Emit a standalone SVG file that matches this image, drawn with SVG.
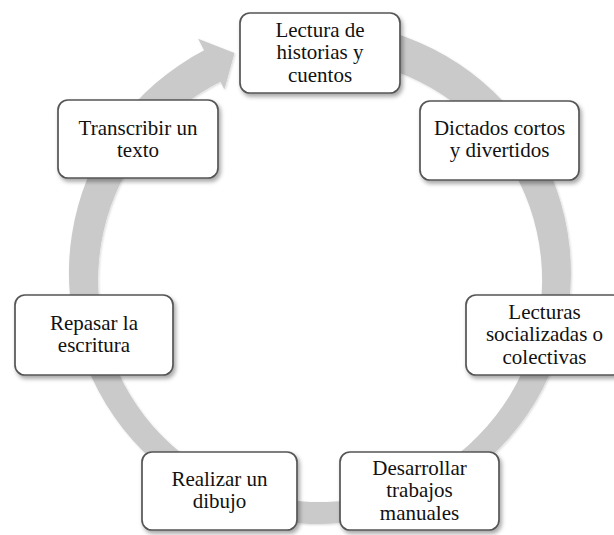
<svg xmlns="http://www.w3.org/2000/svg" width="614" height="535" viewBox="0 0 614 535">
  <defs>
    <filter id="shadow" x="-10%" y="-10%" width="130%" height="140%">
      <feDropShadow dx="2" dy="3" stdDeviation="2" flood-color="#000" flood-opacity="0.35"/>
    </filter>
    <filter id="ringShadow" x="-5%" y="-5%" width="110%" height="110%">
      <feDropShadow dx="1" dy="1" stdDeviation="1" flood-color="#000" flood-opacity="0.15"/>
    </filter>
  </defs>
  <style>
    .box { fill: #ffffff; stroke: #555555; stroke-width: 1.7; filter: url(#shadow); }
    .lbl { font-family: "Liberation Serif", "Times New Roman", serif; font-size: 21px; fill: #111; text-anchor: middle; }
    .ring { fill: #cacaca; stroke: none; filter: url(#ringShadow); }
  </style>
  <rect width="614" height="535" fill="#ffffff"/>
  <g id="connectors">
    <path class="ring" d="M 363.6 25.8 A 251 251 0 1 1 204.1 50.3 L 198.1 38.8 L 234.5 53.0 L 224.4 89.4 L 220.4 81.7 A 222 222 0 1 0 358.6 61.4 Z"/>
  </g>
  <g id="node1">
    <rect class="box" x="240" y="13" width="160" height="80" rx="10"/>
    <text class="lbl" x="320" y="36.5">Lectura de</text>
    <text class="lbl" x="320" y="59">historias y</text>
    <text class="lbl" x="320" y="81.5">cuentos</text>
  </g>
  <g id="node2">
    <rect class="box" x="420" y="101" width="159" height="79" rx="10"/>
    <text class="lbl" x="499.5" y="135">Dictados cortos</text>
    <text class="lbl" x="499.5" y="157">y divertidos</text>
  </g>
  <g id="node3">
    <rect class="box" x="466" y="295" width="157" height="80" rx="10"/>
    <text class="lbl" x="544.5" y="318.5">Lecturas</text>
    <text class="lbl" x="544.5" y="341">socializadas o</text>
    <text class="lbl" x="544.5" y="363.5">colectivas</text>
  </g>
  <g id="node4">
    <rect class="box" x="340" y="452" width="159" height="78" rx="10"/>
    <text class="lbl" x="419.5" y="474.5">Desarrollar</text>
    <text class="lbl" x="419.5" y="497">trabajos</text>
    <text class="lbl" x="419.5" y="519.5">manuales</text>
  </g>
  <g id="node5">
    <rect class="box" x="142" y="452" width="155" height="78" rx="10"/>
    <text class="lbl" x="219.5" y="486">Realizar un</text>
    <text class="lbl" x="219.5" y="508">dibujo</text>
  </g>
  <g id="node6">
    <rect class="box" x="15" y="295" width="158" height="80" rx="10"/>
    <text class="lbl" x="94" y="329.5">Repasar la</text>
    <text class="lbl" x="94" y="351.5">escritura</text>
  </g>
  <g id="node7">
    <rect class="box" x="58" y="100" width="160" height="78" rx="10"/>
    <text class="lbl" x="138" y="135">Transcribir un</text>
    <text class="lbl" x="138" y="157">texto</text>
  </g>
</svg>
